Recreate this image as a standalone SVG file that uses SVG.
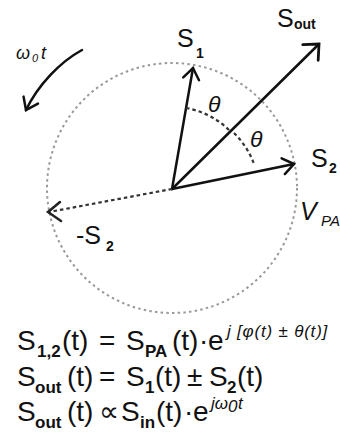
<svg xmlns="http://www.w3.org/2000/svg" width="340" height="444" viewBox="0 0 340 444">
<style>
text{font-family:"Liberation Sans","DejaVu Sans",Arial,sans-serif;fill:#111}
.vec{stroke:#111;stroke-width:2.5;fill:none;stroke-linecap:round}
.dot{stroke:#333;stroke-width:2.2;fill:none;stroke-dasharray:3.5 3}
.circ{stroke:#999;stroke-width:2;fill:none;stroke-dasharray:2.5 3.2}
.lbl{font-size:25px}
.sub{font-size:14px;font-weight:bold}
.it{font-style:italic}
.eq{font-size:28px}
.es{font-size:17px;font-weight:bold}
.sup{font-size:17px;font-style:italic}
</style>
<defs>
<marker id="ah" markerUnits="userSpaceOnUse" viewBox="-14 -10 16 20" refX="0" refY="0" markerWidth="16" markerHeight="20" orient="auto" overflow="visible">
<path d="M-11,-8 L0,0 L-11,8" fill="none" stroke="#111" stroke-width="2.5" stroke-linecap="round" stroke-linejoin="miter"/>
</marker>
<marker id="ahL" markerUnits="userSpaceOnUse" viewBox="-16 -13 18 26" refX="0" refY="0" markerWidth="18" markerHeight="26" orient="auto" overflow="visible">
<path d="M-12,-11 L0,0 L-12,11" fill="none" stroke="#111" stroke-width="2.8" stroke-linecap="round"/>
</marker>
</defs>

<g id="circle">
<circle class="circ" cx="172" cy="188" r="125"/>
</g>

<g id="connectors">
<line id="v-s1" class="vec" x1="172" y1="189" x2="193" y2="68" marker-end="url(#ah)"/>
<line id="v-sout" class="vec" x1="172" y1="189" x2="319" y2="44" marker-end="url(#ahL)"/>
<line id="v-s2" class="vec" x1="172" y1="189" x2="294" y2="164" marker-end="url(#ah)"/>
<line id="v-ms2" class="dot" x1="172" y1="189" x2="49" y2="212"/>
<path d="M60,202 L48,212 L61,221" fill="none" stroke="#222" stroke-width="2.5" stroke-linecap="round"/>
<path id="arc1" class="dot" d="M186,108 A82,82 0 0 1 229,130"/>
<path id="arc2" class="dot" d="M234,133 A84,84 0 0 1 254,164"/>
<path id="rot" class="vec" d="M82,50 C60,62 38,85 26,110" marker-end="url(#ah)"/>
</g>

<g id="labels">
<text class="lbl" x="177" y="47">S<tspan class="sub" x="196" y="58">1</tspan></text>
<text class="lbl" x="277" y="27">S<tspan class="sub" x="294" y="29">out</tspan></text>
<text class="lbl" x="311" y="167">S<tspan class="sub" x="329" y="173">2</tspan></text>
<text class="lbl it" x="300" y="220" font-size="26">V<tspan x="321" y="226" font-size="15" font-style="italic">PA</tspan></text>
<text class="lbl" x="76" y="244" font-size="26">-S<tspan class="sub" x="106" y="251" font-weight="normal" font-size="16">2</tspan></text>
<text class="it" x="208" y="112" font-size="23">θ</text>
<text class="it" x="250" y="147" font-size="23">θ</text>
<text class="it" x="16" y="59" font-size="18">ω<tspan x="32" y="62" font-size="11">0</tspan><tspan x="41" y="59">t</tspan></text>
</g>

<g id="equations">
<text class="eq" y="350"><tspan x="17">S</tspan><tspan class="es" x="37" y="357">1,2</tspan><tspan x="62" y="350">(t)</tspan><tspan x="99">=</tspan><tspan x="126">S</tspan><tspan class="es" x="145" y="357">PA</tspan><tspan x="172" y="350">(t)</tspan><tspan x="199">·</tspan><tspan x="208">e</tspan><tspan class="sup" x="227" y="337" letter-spacing="0.8">j [φ(t) ± θ(t)]</tspan></text>
<text class="eq" y="386"><tspan x="17">S</tspan><tspan class="es" x="35" y="393">out</tspan><tspan x="67" y="386">(t)</tspan><tspan x="99">=</tspan><tspan x="126">S</tspan><tspan class="es" x="145" y="393">1</tspan><tspan x="155" y="386">(t)</tspan><tspan x="187">±</tspan><tspan x="209">S</tspan><tspan class="es" x="227" y="393">2</tspan><tspan x="237" y="386">(t)</tspan></text>
<text class="eq" y="421"><tspan x="17">S</tspan><tspan class="es" x="35" y="428">out</tspan><tspan x="67" y="421">(t)</tspan><tspan x="99">∝</tspan><tspan x="121">S</tspan><tspan class="es" x="140" y="428">in</tspan><tspan x="156" y="421">(t)</tspan><tspan x="184">·</tspan><tspan x="193">e</tspan><tspan class="sup" x="211" y="409" font-size="13">jω</tspan><tspan class="sup" x="228" y="412" font-size="9">0</tspan><tspan class="sup" x="238" y="409" font-size="13">t</tspan></text>
</g>
</svg>
